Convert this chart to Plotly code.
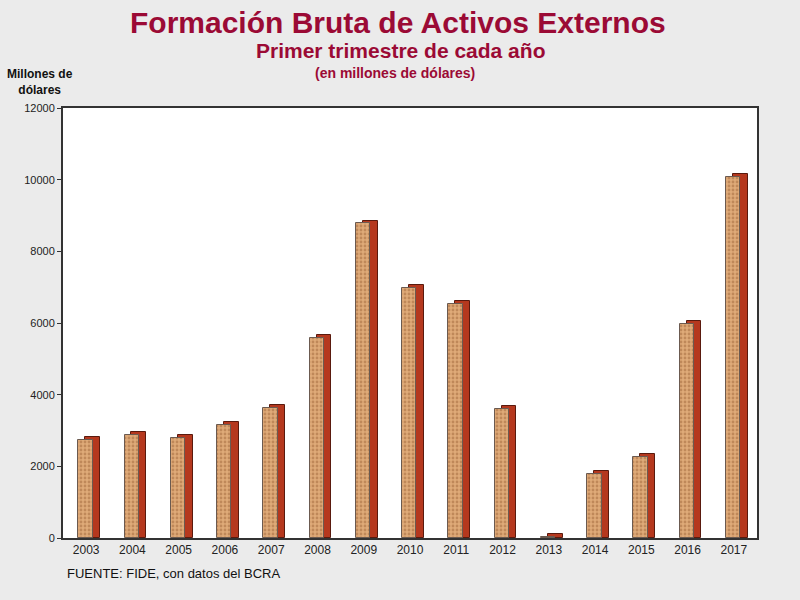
import plotly.graph_objects as go

years = ["2003", "2004", "2005", "2006", "2007", "2008", "2009", "2010",
         "2011", "2012", "2013", "2014", "2015", "2016", "2017"]
values = [2740, 2885, 2800, 3150, 3635, 5580, 8780, 6970,
          6540, 3600, 40, 1790, 2260, 5970, 10070]
y_ticks = [0, 2000, 4000, 6000, 8000, 10000, 12000]
y_tick_labels = ["0", "2000", "4000", "6000", "8000", "10000", "12000"]

DEPTH = 80  # visual 3D depth of the bars (style)
narrow = "Liberation Sans Narrow, Arial Narrow, Liberation Sans, Arial, sans-serif"
crimson = "#9B0A35"

fig = go.Figure()
# back (shadow) bar
fig.add_trace(go.Bar(
    x=years, y=[v + DEPTH for v in values],
    width=0.32, offset=-0.02,
    marker=dict(color="#B5381E", line=dict(color="#5A1A0E", width=1)),
    hoverinfo="skip", showlegend=False))
# front textured bar
fig.add_trace(go.Bar(
    x=years, y=values,
    width=0.31, offset=-0.17,
    marker=dict(color="#D9A270",
                line=dict(color="#6B5A50", width=1),
                pattern=dict(shape=".", fgcolor="#A0653A", bgcolor="#DFAA78",
                             size=4, solidity=0.4)),
    showlegend=False))

H = 600 - 108 - 62
W = 800 - 63 - 43
def py(y_px):
    return (600 - 62 - y_px) / H
def px(x_px):
    return (x_px - 63) / W

fig.update_layout(
    width=800, height=600,
    paper_bgcolor="#EBEBEB", plot_bgcolor="white",
    barmode="overlay", bargap=0,
    margin=dict(l=63, r=43, t=108, b=62),
    font=dict(family=narrow, size=11, color="#222"),
    xaxis=dict(type="category", showline=True, linecolor="#333", linewidth=2,
               mirror=True, ticks="", tickfont=dict(size=12, family=narrow),
               showgrid=False),
    yaxis=dict(range=[0, 12000], tickvals=y_ticks, ticktext=y_tick_labels,
               showline=True, linecolor="#333", linewidth=2, mirror=True,
               ticks="outside", ticklen=4, tickcolor="#333", showgrid=False,
               zeroline=False, tickfont=dict(size=11, family=narrow)),
    annotations=[
        dict(text="<b>Formación Bruta de Activos Externos</b>",
             x=px(398), y=py(22), xanchor="center", yanchor="middle",
             xref="paper", yref="paper", showarrow=False,
             font=dict(size=30, color=crimson, family=narrow)),
        dict(text="<b>Primer trimestre de cada año</b>",
             x=px(400), y=py(51), xanchor="center", yanchor="middle",
             xref="paper", yref="paper", showarrow=False,
             font=dict(size=21, color=crimson, family=narrow)),
        dict(text="<b>(en millones de dólares)</b>",
             x=px(395), y=py(73), xanchor="center", yanchor="middle",
             xref="paper", yref="paper", showarrow=False,
             font=dict(size=14, color=crimson, family=narrow)),
        dict(text="<b>Millones de<br>dólares</b>",
             x=px(40), y=py(82), xanchor="center", yanchor="middle",
             xref="paper", yref="paper", showarrow=False, align="center",
             font=dict(size=12, color="#111", family=narrow)),
        dict(text="FUENTE: FIDE, con datos del BCRA",
             x=px(65), y=py(573), xanchor="left", yanchor="middle",
             xref="paper", yref="paper", showarrow=False,
             font=dict(size=13, color="#111", family=narrow)),
    ],
)

fig.write_html("out.html")
